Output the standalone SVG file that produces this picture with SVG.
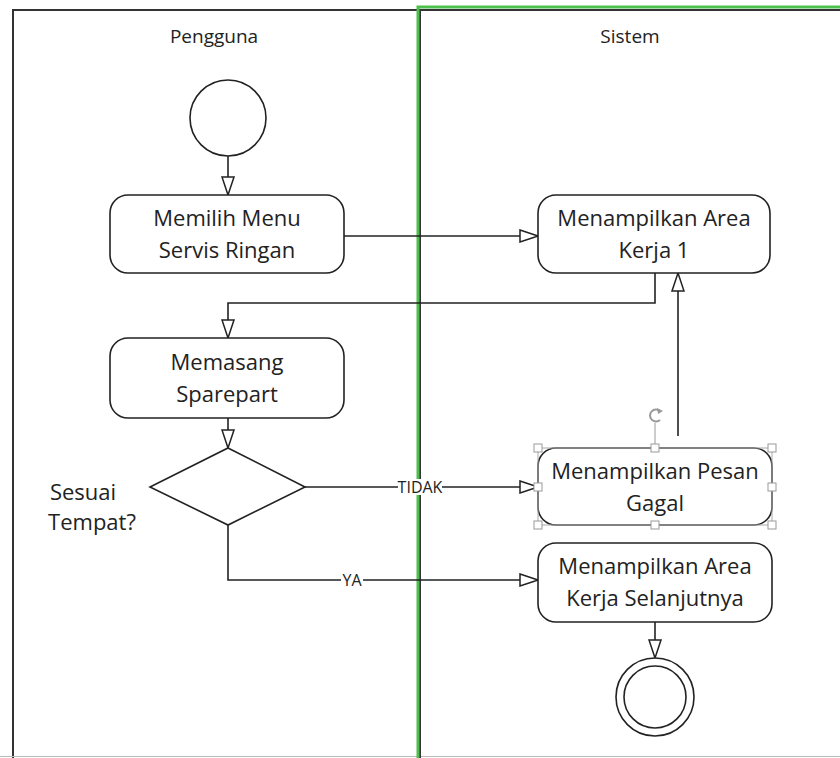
<svg xmlns="http://www.w3.org/2000/svg" width="840" height="758" viewBox="0 0 840 758">
<defs>
<style>
.lane{fill:none;stroke:#333;stroke-width:2}
.node{fill:#fff;stroke:#222;stroke-width:1.6}
.lbl{font-family:"Open Sans","Liberation Sans",sans-serif;font-size:22px;fill:#222;text-anchor:middle}
.hdr{font-family:"Open Sans","Liberation Sans",sans-serif;font-size:19px;fill:#222;text-anchor:middle}
.edge{fill:none;stroke:#222;stroke-width:1.6}
.elbl{font-family:"Open Sans","Liberation Sans",sans-serif;font-size:16px;fill:#222;text-anchor:middle}
.h{fill:#fff;stroke:#999;stroke-width:1}
</style>
<marker id="open" viewBox="0 0 20 14" refX="19" refY="7" markerWidth="20" markerHeight="14" markerUnits="userSpaceOnUse" orient="auto">
<path d="M1,1 L19,7 L1,13 Z" fill="#fff" stroke="#222" stroke-width="1.5"/>
</marker>
</defs>
<rect width="840" height="758" fill="#fff"/>
<g id="lanes">
<path class="lane" d="M13,758 V10 H420"/>
<line x1="0" y1="756.5" x2="840" y2="756.5" stroke="#bbb" stroke-width="1"/>
<path d="M420,758 V10 H840" fill="none" stroke="#333" stroke-width="2"/>
<path d="M418,758 V7 H840" fill="none" stroke="#4cbf4c" stroke-width="3"/>
<text class="hdr" x="214" y="43">Pengguna</text>
<text class="hdr" x="630" y="43">Sistem</text>
</g>
<g id="connectors">
<line class="edge" x1="228" y1="156" x2="228" y2="195" marker-end="url(#open)"/>
<line class="edge" x1="344" y1="236" x2="538" y2="236" marker-end="url(#open)"/>
<polyline class="edge" points="655,273 655,303 228,303 228,338" marker-end="url(#open)"/>
<line class="edge" x1="228" y1="418" x2="228" y2="448" marker-end="url(#open)"/>
<line class="edge" x1="305" y1="487" x2="538" y2="487" marker-end="url(#open)"/>
<rect x="398" y="479" width="44" height="16" fill="#fff"/>
<text class="elbl" x="420" y="493">TIDAK</text>
<polyline class="edge" points="228,525 228,580 538,580" marker-end="url(#open)"/>
<rect x="341" y="572" width="22" height="16" fill="#fff"/>
<text class="elbl" x="352" y="586">YA</text>
<line class="edge" x1="678" y1="436" x2="678" y2="273" marker-end="url(#open)"/>
<line class="edge" x1="655" y1="622" x2="655" y2="658" marker-end="url(#open)"/>
</g>
<g id="start"><circle class="node" cx="228" cy="118" r="38"/></g>
<g id="memilih">
<rect class="node" x="110" y="195" width="234" height="78" rx="18"/>
<text class="lbl" x="227" y="226">Memilih Menu</text>
<text class="lbl" x="227" y="258">Servis Ringan</text>
</g>
<g id="area1">
<rect class="node" x="538" y="195" width="232" height="78" rx="18"/>
<text class="lbl" x="654" y="226">Menampilkan Area</text>
<text class="lbl" x="654" y="258">Kerja 1</text>
</g>
<g id="memasang">
<rect class="node" x="110" y="338" width="234" height="80" rx="18"/>
<text class="lbl" x="227" y="370">Memasang</text>
<text class="lbl" x="227" y="402">Sparepart</text>
</g>
<g id="decision">
<polygon class="node" points="228,448 305,487 228,525 150,487"/>
<text class="lbl" x="83" y="500">Sesuai</text>
<text class="lbl" x="92" y="530">Tempat?</text>
</g>
<g id="gagal">
<rect class="node" x="538" y="448" width="234" height="77" rx="18"/>
<text class="lbl" x="655" y="479">Menampilkan Pesan</text>
<text class="lbl" x="655" y="511">Gagal</text>
<rect x="538" y="448" width="234" height="77" fill="none" stroke="#aaa" stroke-width="1"/>
<line x1="655" y1="423" x2="655" y2="448" stroke="#999" stroke-width="1"/>
<path d="M660,411 A6,6 0 1 0 660,420" fill="none" stroke="#999" stroke-width="2"/>
<path d="M657,408 L663,411 L658,414 Z" fill="#999"/>
<rect class="h" x="534" y="444" width="8" height="8"/>
<rect class="h" x="651" y="444" width="8" height="8"/>
<rect class="h" x="768" y="444" width="8" height="8"/>
<rect class="h" x="534" y="483" width="8" height="8"/>
<rect class="h" x="768" y="483" width="8" height="8"/>
<rect class="h" x="534" y="521" width="8" height="8"/>
<rect class="h" x="651" y="521" width="8" height="8"/>
<rect class="h" x="768" y="521" width="8" height="8"/>
</g>
<g id="selanjutnya">
<rect class="node" x="538" y="543" width="234" height="79" rx="18"/>
<text class="lbl" x="655" y="574">Menampilkan Area</text>
<text class="lbl" x="655" y="606">Kerja Selanjutnya</text>
</g>
<g id="end">
<circle class="node" cx="655" cy="697" r="39"/>
<circle class="node" cx="655" cy="697" r="31"/>
</g>
</svg>
